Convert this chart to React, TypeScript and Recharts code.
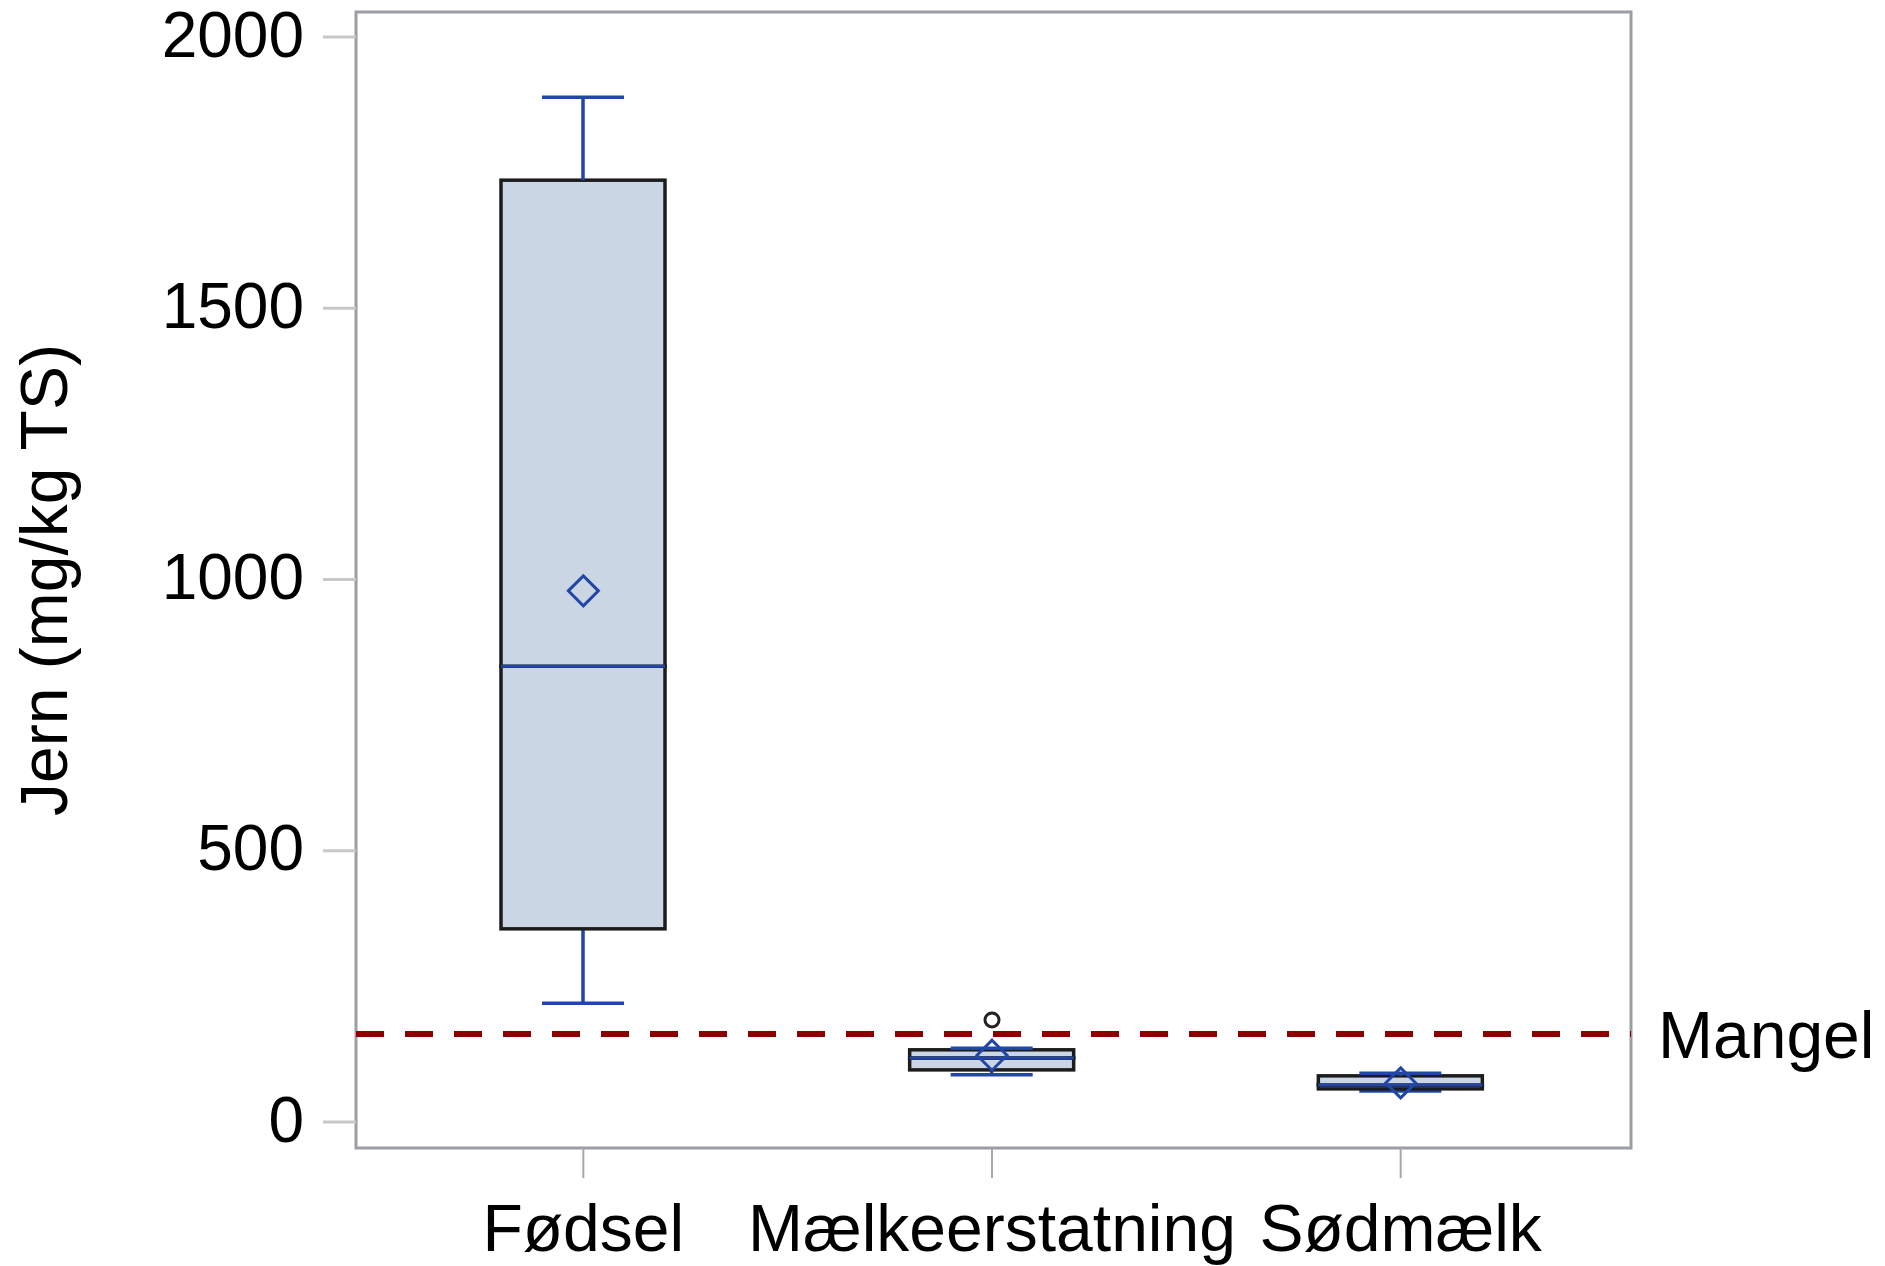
import { ComposedChart, Bar, Scatter, XAxis, YAxis, ReferenceLine } from "recharts"

// Jern i mg/kg TS pr. gruppe — fem-tals-opsummering + gennemsnit
const categories = ["Fødsel", "Mælkeerstatning", "Sødmælk"]
const minVals = [219, 87, 57]
const q1Vals = [356, 96, 61]
const medianVals = [840, 118, 68]
const q3Vals = [1736, 133, 85]
const maxVals = [1889, 136, 90]
const meanVals = [979, 123, 72]
const outlierVals: (number | null)[] = [null, 188, null]
const mangel = 162
const yTicks = [0, 500, 1000, 1500, 2000]
const yDomain: [number, number] = [-48, 2046]

const W = 1885
const H = 1266
const M = { top: 12, right: 254, bottom: 0, left: 0 }
const Y_AXIS_W = 356
const X_AXIS_H = 118
const plotX = M.left + Y_AXIS_W
const plotY = M.top
const plotW = W - M.left - M.right - Y_AXIS_W
const plotH = H - M.top - M.bottom - X_AXIS_H

const BLUE = "#2246a8"
const FILL = "#cbd6e5"
const EDGE = "#1c1c1c"
const FONT = '"Liberation Sans", Arial, sans-serif'

// stacked segments: base -> lower whisker -> lower box -> upper box -> upper whisker
const data = categories.map((name, i) => ({
  name,
  base: minVals[i],
  lowWhisker: q1Vals[i] - minVals[i],
  lowBox: medianVals[i] - q1Vals[i],
  highBox: q3Vals[i] - medianVals[i],
  highWhisker: maxVals[i] - q3Vals[i],
  mean: meanVals[i],
  outlier: outlierVals[i],
}))

type ShapeProps = { x?: number; y?: number; width?: number; height?: number }

const LowWhisker = ({ x = 0, y = 0, width = 0, height = 0 }: ShapeProps) => {
  const cx = x + width / 2
  return (
    <g stroke={BLUE} strokeWidth={3.5}>
      <line x1={cx} x2={cx} y1={y} y2={y + height} />
      <line x1={cx - width / 4} x2={cx + width / 4} y1={y + height} y2={y + height} />
    </g>
  )
}

const HighWhisker = ({ x = 0, y = 0, width = 0, height = 0 }: ShapeProps) => {
  const cx = x + width / 2
  return (
    <g stroke={BLUE} strokeWidth={3.5}>
      <line x1={cx} x2={cx} y1={y} y2={y + height} />
      <line x1={cx - width / 4} x2={cx + width / 4} y1={y} y2={y} />
    </g>
  )
}

const LowBox = ({ x = 0, y = 0, width = 0, height = 0 }: ShapeProps) => (
  <rect x={x} y={y} width={width} height={height} fill={FILL} stroke={EDGE} strokeWidth={3.5} />
)

// upper half also carries the median line along its bottom edge
const HighBox = ({ x = 0, y = 0, width = 0, height = 0 }: ShapeProps) => (
  <g>
    <rect x={x} y={y} width={width} height={height} fill={FILL} stroke={EDGE} strokeWidth={3.5} />
    <line x1={x} x2={x + width} y1={y + height} y2={y + height} stroke={BLUE} strokeWidth={3} />
  </g>
)

const Diamond = ({ cx = 0, cy = 0 }: { cx?: number; cy?: number }) => (
  <path
    d={`M${cx},${cy - 15} L${cx + 15},${cy} L${cx},${cy + 15} L${cx - 15},${cy} Z`}
    fill="none"
    stroke={BLUE}
    strokeWidth={3}
  />
)

const Outlier = ({ cx = 0, cy = 0, payload }: { cx?: number; cy?: number; payload?: { outlier: number | null } }) => {
  if (payload?.outlier == null || !isFinite(cy)) return <g />
  return <circle cx={cx} cy={cy} r={7} fill="#fff" stroke="#222" strokeWidth={3} />
}

export default function App() {
  return (
    <div style={{ position: "absolute", left: 0, top: 0, width: W, height: H, background: "#fff", fontFamily: FONT }}>
      <ComposedChart width={W} height={H} data={data} margin={M} barSize={164}>
        <XAxis
          dataKey="name"
          height={X_AXIS_H}
          padding={{ left: 23, right: 26 }}
          axisLine={false}
          tickSize={30}
          tickMargin={26}
          tickLine={{ stroke: "#a8a8a8", strokeWidth: 2 }}
          tick={{ fontSize: 66, fill: "#000", fontFamily: FONT }}
          interval={0}
        />
        <YAxis
          width={Y_AXIS_W}
          domain={yDomain}
          ticks={yTicks}
          type="number"
          allowDataOverflow
          axisLine={false}
          tickSize={33}
          tickMargin={19}
          tickLine={{ stroke: "#c8c8c8", strokeWidth: 3 }}
          tick={{ fontSize: 64, fill: "#000", fontFamily: FONT, dy: -3 }}
          label={{
            value: "Jern (mg/kg TS)",
            angle: -90,
            position: "insideLeft",
            offset: 44,
            fontSize: 66,
            fill: "#000",
            style: { textAnchor: "middle", fontFamily: FONT },
          }}
        />

        <Bar dataKey="base" stackId="box" fill="transparent" isAnimationActive={false} />
        <Bar dataKey="lowWhisker" stackId="box" shape={LowWhisker} isAnimationActive={false} />
        <Bar dataKey="lowBox" stackId="box" shape={LowBox} isAnimationActive={false} />
        <Bar dataKey="highBox" stackId="box" shape={HighBox} isAnimationActive={false} />
        <Bar dataKey="highWhisker" stackId="box" shape={HighWhisker} isAnimationActive={false} />

        <Scatter dataKey="mean" shape={Diamond} isAnimationActive={false} />
        <Scatter dataKey="outlier" shape={Outlier} isAnimationActive={false} />

        {/* mangelgrænse */}
        <ReferenceLine
          y={mangel}
          stroke="#8b0000"
          strokeWidth={6}
          strokeDasharray="28 21"
          label={{ value: "Mangel", position: "right", offset: 27, fontSize: 66, fill: "#000", fontFamily: FONT }}
        />

        <rect x={plotX} y={plotY} width={plotW} height={plotH} fill="none" stroke="#9a9ea3" strokeWidth={3} />
      </ComposedChart>
    </div>
  )
}
